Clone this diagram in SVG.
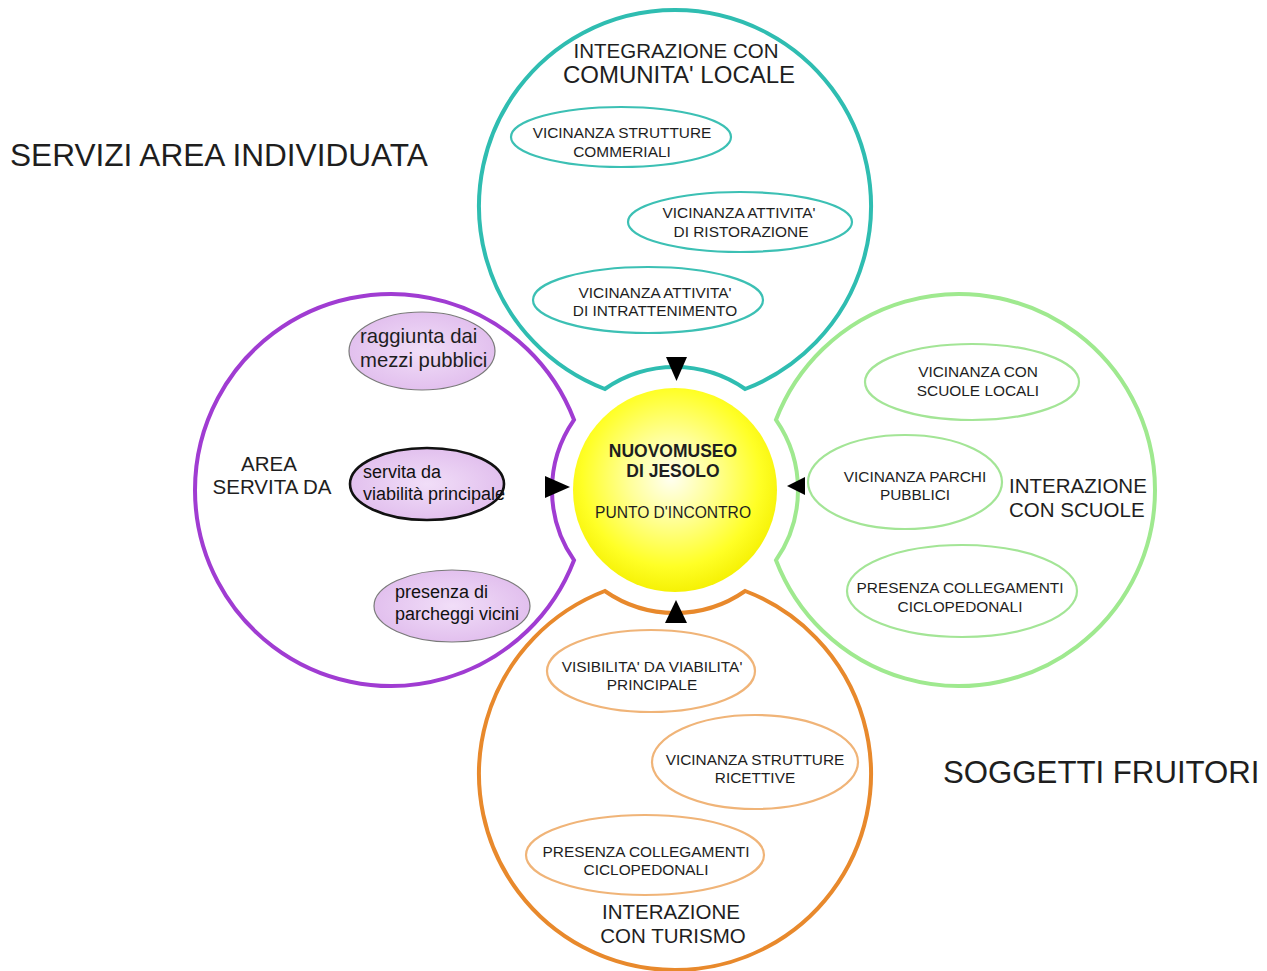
<svg xmlns="http://www.w3.org/2000/svg" width="1267" height="971" viewBox="0 0 1267 971">
<defs>
<radialGradient id="sun" cx="48%" cy="44%" r="58%">
<stop offset="0" stop-color="#fffff2"/>
<stop offset="0.35" stop-color="#ffff9a"/>
<stop offset="0.75" stop-color="#ffff26"/>
<stop offset="1" stop-color="#f4ef00"/>
</radialGradient>
<radialGradient id="lav" cx="50%" cy="50%" r="60%">
<stop offset="0" stop-color="#f1def8"/>
<stop offset="1" stop-color="#dfbaec"/>
</radialGradient>
<style>
.petal{fill:#fff;stroke-width:4;stroke-linejoin:miter}
.teal{stroke:#2fbdb1}
.purple{stroke:#a03cd2}
.green{stroke:#9fe98f}
.orange{stroke:#e8892c}
.el{fill:#fff;stroke-width:2.2}
.elt{stroke:#3cc0b4}
.elg{stroke:#a3e596}
.elo{stroke:#f0b478}
.elp{fill:url(#lav);stroke:#7a7a7a;stroke-width:1.2}
.t{font-family:"Liberation Sans",Arial,sans-serif;fill:#1e1e1e}
.s{font-size:15.4px;text-anchor:middle}
.big{font-size:20.5px}
.p{font-size:18px;fill:#111}
.mid{text-anchor:middle}
.arr{fill:#000}
</style>
</defs>
<rect width="1267" height="971" fill="#fff"/>

<text class="t" x="10" y="166" font-size="31.6">SERVIZI AREA INDIVIDUATA</text>
<text class="t" x="943" y="783" font-size="31.2">SOGGETTI FRUITORI</text>

<g id="petal-comunita">
<path class="petal teal" d="M604.8 389 A196 196 0 1 1 745.2 389 A123 123 0 0 0 604.8 389 Z"/>
<text class="t big mid" x="676" y="58">INTEGRAZIONE CON</text>
<text class="t mid" x="679" y="83" font-size="24">COMUNITA' LOCALE</text>
</g>
<g id="n-strutture-commerciali">
<ellipse class="el elt" cx="621" cy="137" rx="110" ry="30"/>
<text class="t s" x="622" y="138">VICINANZA STRUTTURE</text>
<text class="t s" x="622" y="157">COMMERIALI</text>
</g>
<g id="n-ristorazione">
<ellipse class="el elt" cx="740" cy="222" rx="112" ry="30"/>
<text class="t s" x="739" y="218">VICINANZA ATTIVITA'</text>
<text class="t s" x="741" y="237">DI RISTORAZIONE</text>
</g>
<g id="n-intrattenimento">
<ellipse class="el elt" cx="648" cy="300" rx="115" ry="33"/>
<text class="t s" x="655" y="298">VICINANZA ATTIVITA'</text>
<text class="t s" x="655" y="316">DI INTRATTENIMENTO</text>
</g>

<g id="petal-area">
<path class="petal purple" d="M574 419.8 A196 196 0 1 0 574 560.2 A123 123 0 0 1 574 419.8 Z"/>
<text class="t big mid" x="269" y="471">AREA</text>
<text class="t big mid" x="272" y="494">SERVITA DA</text>
</g>
<g id="n-mezzi-pubblici">
<ellipse class="elp" cx="422" cy="351" rx="73" ry="39"/>
<text class="t" x="360" y="343" font-size="20.3" fill="#111">raggiunta dai</text>
<text class="t" x="360" y="367" font-size="20.3" fill="#111">mezzi pubblici</text>
</g>
<g id="n-viabilita">
<ellipse cx="427" cy="484" rx="77" ry="36" fill="url(#lav)" stroke="#111" stroke-width="2.6"/>
<text class="t p" x="363" y="478">servita da</text>
<text class="t p" x="363" y="500">viabilità principale</text>
</g>
<g id="n-parcheggi">
<ellipse class="elp" cx="452" cy="606" rx="78" ry="36"/>
<text class="t p" x="395" y="598">presenza di</text>
<text class="t p" x="395" y="620">parcheggi vicini</text>
</g>

<g id="petal-scuole">
<path class="petal green" d="M776 419.8 A196 196 0 1 1 776 560.2 A123 123 0 0 0 776 419.8 Z"/>
<text class="t big" x="1009" y="493">INTERAZIONE</text>
<text class="t big" x="1009" y="517">CON SCUOLE</text>
</g>
<g id="n-scuole-locali">
<ellipse class="el elg" cx="972" cy="382" rx="107" ry="38"/>
<text class="t s" x="978" y="377">VICINANZA CON</text>
<text class="t s" x="978" y="396">SCUOLE LOCALI</text>
</g>
<g id="n-parchi">
<ellipse class="el elg" cx="905" cy="482" rx="97" ry="47"/>
<text class="t s" x="915" y="482">VICINANZA PARCHI</text>
<text class="t s" x="915" y="500">PUBBLICI</text>
</g>
<g id="n-ciclo-scuole">
<ellipse class="el elg" cx="962" cy="591" rx="115" ry="46"/>
<text class="t s" x="960" y="593">PRESENZA COLLEGAMENTI</text>
<text class="t s" x="960" y="612">CICLOPEDONALI</text>
</g>

<g id="petal-turismo">
<path class="petal orange" d="M604.8 591 A196 196 0 1 0 745.2 591 A123 123 0 0 1 604.8 591 Z"/>
<text class="t big mid" x="671" y="919">INTERAZIONE</text>
<text class="t big mid" x="673" y="943">CON TURISMO</text>
</g>
<g id="n-visibilita">
<ellipse class="el elo" cx="651" cy="671" rx="104" ry="41"/>
<text class="t s" x="652" y="672">VISIBILITA' DA VIABILITA'</text>
<text class="t s" x="652" y="690">PRINCIPALE</text>
</g>
<g id="n-ricettive">
<ellipse class="el elo" cx="755" cy="762" rx="103" ry="47"/>
<text class="t s" x="755" y="765">VICINANZA STRUTTURE</text>
<text class="t s" x="755" y="783">RICETTIVE</text>
</g>
<g id="n-ciclo-turismo">
<ellipse class="el elo" cx="645" cy="855" rx="119" ry="40"/>
<text class="t s" x="646" y="857">PRESENZA COLLEGAMENTI</text>
<text class="t s" x="646" y="875">CICLOPEDONALI</text>
</g>

<g id="museo">
<circle cx="675" cy="490" r="102" fill="url(#sun)"/>
<text class="t mid" x="673" y="457" font-size="17.5" font-weight="bold">NUOVOMUSEO</text>
<text class="t mid" x="673" y="477" font-size="17.5" font-weight="bold">DI JESOLO</text>
<text class="t mid" x="673" y="518" font-size="15.6">PUNTO D'INCONTRO</text>
</g>

<g id="connectors">
<polygon class="arr" points="666,357 687,357 676.5,381"/>
<polygon class="arr" points="545,476 545,498 570,487"/>
<polygon class="arr" points="805,477 805,495 787,486"/>
<polygon class="arr" points="665,623 687,623 676,600"/>
</g>
</svg>
